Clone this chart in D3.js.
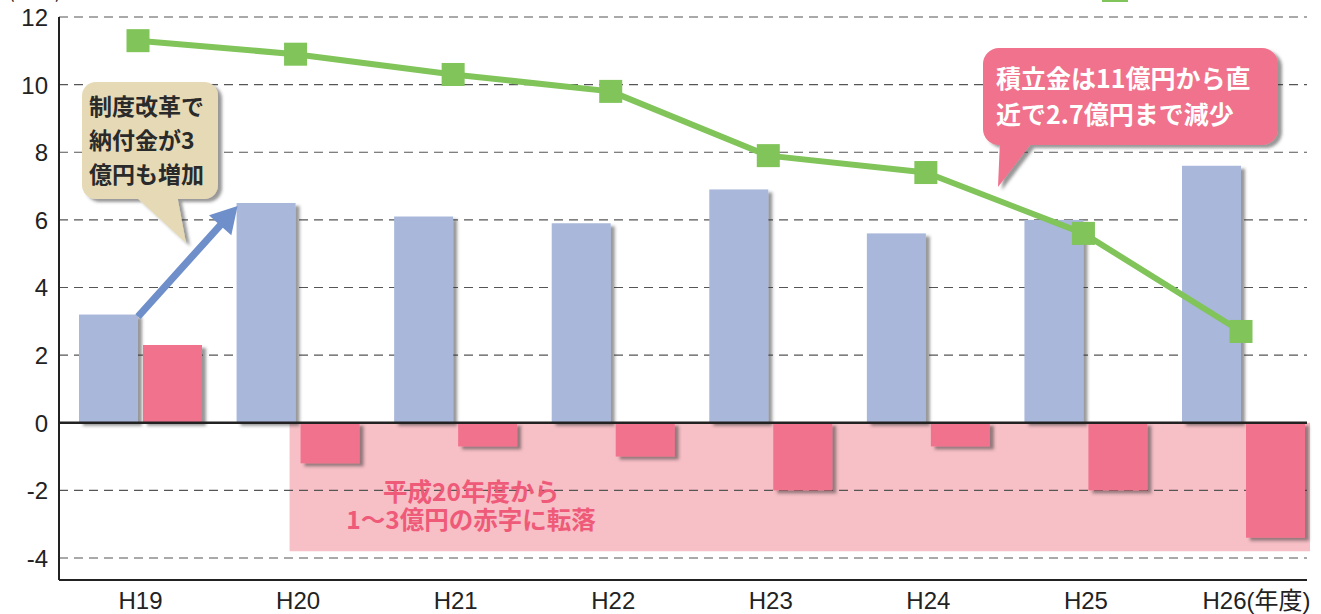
<!DOCTYPE html>
<html><head><meta charset="utf-8">
<script src="https://cdn.jsdelivr.net/npm/d3@7"></script>
<style>
html,body{margin:0;padding:0;background:#fff;}
svg{display:block;}
</style></head>
<body>
<svg id="chart" width="1321" height="614"></svg>
<script>
// ---- data ----
const categories = ["H19","H20","H21","H22","H23","H24","H25","H26"];
const contributions = [3.2, 6.5, 6.1, 5.9, 6.9, 5.6, 6.0, 7.6];    // 納付金
const balance = [2.3, -1.2, -0.7, -1.0, -2.0, -0.7, -2.0, -3.4];   // 収支
const reserve = [11.3, 10.9, 10.3, 9.8, 7.9, 7.4, 5.6, 2.7];       // 積立金
const yTicks = [-4, -2, 0, 2, 4, 6, 8, 10, 12];
const unitLabel = "(億円)";
const yearLabel = "(年度)";
const noteReform = ["制度改革で", "納付金が3", "億円も増加"];
const noteReserve = ["積立金は11億円から直", "近で2.7億円まで減少"];
const noteDeficit = ["平成20年度から", "1～3億円の赤字に転落"];
const deficitBandBottom = -3.8;

// ---- layout ----
const plotLeft = 59, plotRight = 1307, plotTop = 17, plotBottom = 580;
const svg = d3.select("#chart");
const C = {blue:"#a8b7da", pink:"#f0728c", green:"#80c45a", band:"#f7bfc6", beige:"#e6dab6", arrow:"#6f8fca", text:"#222"};
const latin = "'Liberation Sans', Arial, 'Noto Sans CJK JP', sans-serif";
const cjk = "'Noto Sans CJK JP', 'Noto Sans', sans-serif";

const defs = svg.append("defs");
const f = defs.append("filter").attr("id","shadow").attr("x","-20%").attr("y","-20%").attr("width","150%").attr("height","150%");
f.append("feDropShadow").attr("dx",4).attr("dy",3).attr("stdDeviation",1.6).attr("flood-color","#333").attr("flood-opacity",0.5);

const x = d3.scalePoint().domain(categories).range([140, 1243]);
const y = d3.scaleLinear().domain([-4.65, 12]).range([plotBottom, plotTop]);

// deficit band
svg.append("rect")
  .attr("x", x("H20") - 8).attr("y", y(0))
  .attr("width", 1310 - (x("H20") - 8)).attr("height", y(deficitBandBottom) - y(0))
  .attr("fill", C.band);

// gridlines
svg.append("g").selectAll("line").data(yTicks.filter(d => d !== 0)).join("line")
  .attr("x1", plotLeft).attr("x2", plotRight)
  .attr("y1", d => y(d)).attr("y2", d => y(d))
  .attr("stroke", "#555").attr("stroke-width", 1.2).attr("stroke-dasharray", "9,6");

// y axis
const yAxis = d3.axisLeft(y).tickValues(yTicks).tickSize(0).tickPadding(11).tickFormat(d => String(d));
const gy = svg.append("g").attr("transform", `translate(${plotLeft},0)`).call(yAxis);
gy.select(".domain").remove();
gy.selectAll("text").attr("font-family", latin).attr("font-size", 24).attr("fill", C.text).attr("dy", "0.35em");
svg.append("line").attr("x1", plotLeft).attr("x2", plotLeft).attr("y1", plotTop).attr("y2", plotBottom)
  .attr("stroke", "#222").attr("stroke-width", 2);

// x axis (bottom)
const xAxis = d3.axisBottom(x).tickSize(0).tickPadding(12);
const gx = svg.append("g").attr("transform", `translate(0,${plotBottom})`).call(xAxis);
gx.select(".domain").remove();
gx.selectAll("text").attr("font-family", latin).attr("font-size", 24).attr("fill", C.text);
gx.selectAll(".tick").filter(d => d === categories[categories.length-1]).select("text")
  .attr("text-anchor", "end").attr("x", 1310 - x(categories[categories.length-1]))
  .text(d => d + yearLabel);
svg.append("line").attr("x1", plotLeft).attr("x2", plotRight).attr("y1", plotBottom).attr("y2", plotBottom)
  .attr("stroke", "#222").attr("stroke-width", 2);

// bars
const barW = 59;
svg.append("g").attr("filter", "url(#shadow)").selectAll("rect").data(categories).join("rect")
  .attr("x", d => x(d) - 61).attr("width", barW)
  .attr("y", (d,i) => y(Math.max(0, contributions[i])))
  .attr("height", (d,i) => Math.abs(y(contributions[i]) - y(0)))
  .attr("fill", C.blue);
svg.append("g").attr("filter", "url(#shadow)").selectAll("rect").data(categories).join("rect")
  .attr("x", d => x(d) + 3).attr("width", barW)
  .attr("y", (d,i) => y(Math.max(0, balance[i])))
  .attr("height", (d,i) => Math.abs(y(balance[i]) - y(0)))
  .attr("fill", C.pink);

// zero line
svg.append("line").attr("x1", plotLeft).attr("x2", plotRight).attr("y1", y(0)).attr("y2", y(0))
  .attr("stroke", "#222").attr("stroke-width", 2.5);

// reserve line
const line = d3.line().x((d,i) => x(categories[i]) - 2).y(d => y(d));
svg.append("path").datum(reserve).attr("d", line).attr("fill","none")
  .attr("stroke", C.green).attr("stroke-width", 6).attr("stroke-linejoin","round");
svg.append("g").selectAll("rect").data(reserve).join("rect")
  .attr("x", (d,i) => x(categories[i]) - 2 - 11.5).attr("y", d => y(d) - 11.5)
  .attr("width", 23).attr("height", 23).attr("fill", C.green);

// clipped unit label & legend stub at top (cut off in the reference too)
svg.append("text").attr("x", 8).attr("y", -2).attr("font-family", cjk).attr("font-size", 20)
  .attr("fill", C.text).text(unitLabel);
svg.append("rect").attr("x", 1102).attr("y", -20).attr("width", 26).attr("height", 22).attr("fill", C.green);

// arrow from H19 to H20
(function(){
  const x0 = x("H19") - 2, y0 = y(contributions[0]) + 2;
  const x1 = x("H20") - 60, y1 = y(contributions[1]) + 3;
  const ang = Math.atan2(y1 - y0, x1 - x0);
  const len = Math.hypot(x1 - x0, y1 - y0);
  const hl = 26, hw = 15, sw = 3.6;
  const pts = [[0,-sw],[len-hl,-sw],[len-hl,-hw],[len,0],[len-hl,hw],[len-hl,sw],[0,sw]];
  svg.append("polygon")
    .attr("points", pts.map(p => p.join(",")).join(" "))
    .attr("transform", `translate(${x0},${y0}) rotate(${ang*180/Math.PI})`)
    .attr("fill", C.arrow);
})();

// callout: reform
const c1 = svg.append("g").attr("filter", "url(#shadow)");
c1.append("rect").attr("x", 82).attr("y", 82).attr("width", 136).attr("height", 117).attr("rx", 14).attr("fill", C.beige);
c1.append("polygon").attr("points", "134,195 177,195 186,243").attr("fill", C.beige);
svg.append("g").selectAll("text").data(noteReform).join("text")
  .attr("x", 89).attr("y", (d,i) => 115 + i*34)
  .attr("font-family", cjk).attr("font-size", 23).attr("font-weight", 700).attr("fill", "#2a2a2a")
  .text(d => d);

// callout: reserve
const c2 = svg.append("g").attr("filter", "url(#shadow)");
c2.append("rect").attr("x", 983).attr("y", 48).attr("width", 295).attr("height", 97).attr("rx", 16).attr("fill", C.pink);
c2.append("polygon").attr("points", "1000,140 1034,140 998,187").attr("fill", C.pink);
svg.append("g").selectAll("text").data(noteReserve).join("text")
  .attr("x", 996).attr("y", (d,i) => 88 + i*36)
  .attr("font-family", cjk).attr("font-size", 25).attr("font-weight", 700).attr("fill", "#fff")
  .text(d => d);

// deficit note
svg.append("g").selectAll("text").data(noteDeficit).join("text")
  .attr("x", 471).attr("y", (d,i) => 501 + i*28).attr("text-anchor", "middle")
  .attr("font-family", cjk).attr("font-size", 24.5).attr("font-weight", 700).attr("fill", "#ee5a78")
  .text(d => d);
</script>
</body></html>
